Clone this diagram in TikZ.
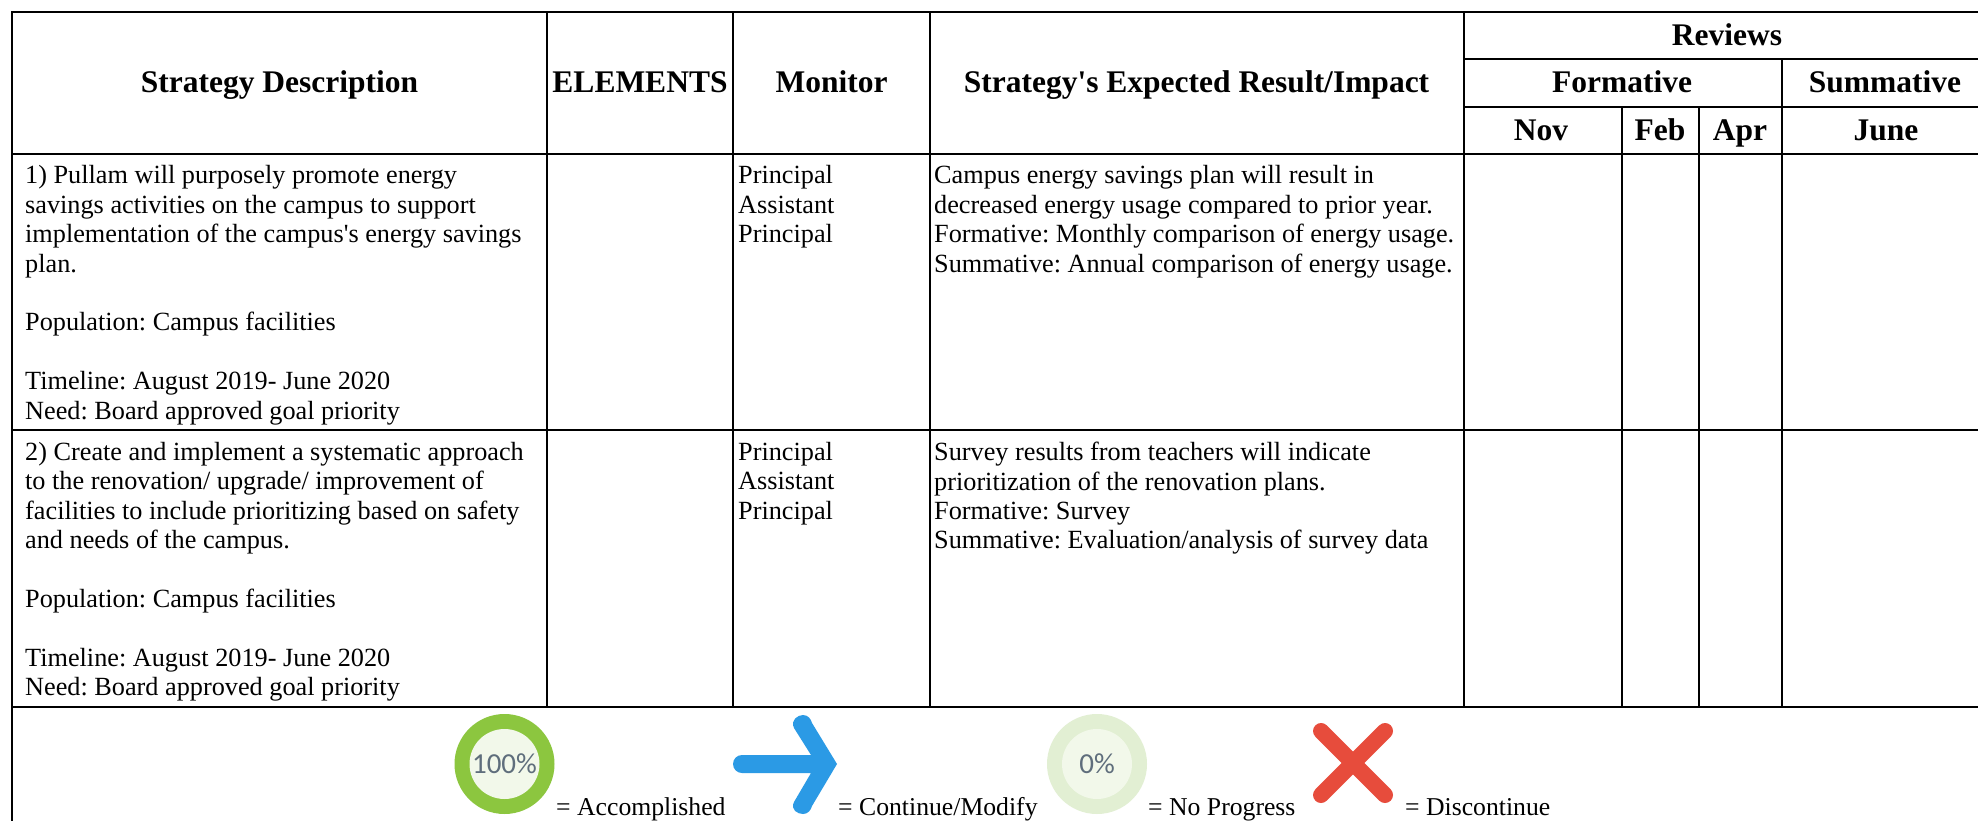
\documentclass[tikz,border=0pt]{standalone}
\usepackage{fontspec}
\setmainfont{Liberation Serif}
\newfontfamily\tnr{Liberation Serif}
\newfontfamily\pctfont{Carlito}
\definecolor{ringA}{HTML}{8CC63F}\definecolor{ringB}{HTML}{E2EFD3}\definecolor{core}{HTML}{F2F8EA}
\definecolor{arrowblue}{HTML}{2B9AE5}\definecolor{xred}{HTML}{E74C3C}\definecolor{pcttext}{HTML}{5F6E7C}
\tikzset{x=1pt,y=-1pt,
 rule/.style={line width=2pt,black},
 head/.style={inner sep=0pt,anchor=base,font=\tnr\fontsize{31.5}{31.5}\selectfont\bfseries},
 body/.style={inner sep=0pt,anchor=north west,align=left,font=\tnr\frenchspacing\fontsize{26.25}{29.4}\selectfont},
 legend/.style={inner sep=0pt,anchor=base west,font=\tnr\frenchspacing\fontsize{25.7}{29.4}\selectfont},
 pct/.style={inner sep=0pt,text=pcttext,font=\pctfont\fontsize{29}{29}\selectfont}}
\begin{document}
\begin{tikzpicture}
\useasboundingbox (0,0) rectangle (1978,821);
\fill[white] (0,0) rectangle (1978,821);
% grid
\draw[rule] (1978,12) -- (12,12) -- (12,821);
\draw[rule] (546.5,12) -- (546.5,707);
\draw[rule] (733,12) -- (733,707);
\draw[rule] (930,12) -- (930,707);
\draw[rule] (1463.5,12) -- (1463.5,707);
\draw[rule] (1622,107) -- (1622,707);
\draw[rule] (1698.5,107) -- (1698.5,707);
\draw[rule] (1782,59.5) -- (1782,707);
\draw[rule] (1463.5,59.5) -- (1978,59.5);
\draw[rule] (1463.5,107) -- (1978,107);
\draw[rule] (12,154) -- (1978,154);
\draw[rule] (12,430) -- (1978,430);
\draw[rule] (12,707) -- (1978,707);
% headers
\node[head] (h1) at (279.5,93) {Strategy Description};
\node[head] (h2) at (640,93) {ELEMENTS};
\node[head] (h3) at (831.5,93) {Monitor};
\node[head] (h4) at (1196.5,93) {Strategy's Expected Result/Impact};
\node[head] (h5) at (1727,46) {Reviews};
\node[head] (h6) at (1622,93) {Formative};
\node[head] (h7) at (1885,93) {Summative};
\node[head] (h8) at (1541,141) {Nov};
\node[head] (h9) at (1660,141) {Feb};
\node[head] (h10) at (1740,141) {Apr};
\node[head] (h11) at (1886,141) {June};
% row 1
\node[body] (a1) at (25,165.5) {1) Pullam will purposely promote energy\\savings activities on the campus to support\\implementation of the campus's energy savings\\plan.\\[29.4pt]Population: Campus facilities\\[29.4pt]Timeline: August 2019- June 2020\\Need: Board approved goal priority};
\node[body] (m1) at (738,165.5) {Principal\\Assistant\\Principal};
\node[body] (r1) at (934,165.5) {Campus energy savings plan will result in\\decreased energy usage compared to prior year.\\Formative: Monthly comparison of energy usage.\\Summative: Annual comparison of energy usage.};
% row 2
\node[body] (a2) at (25,442) {2) Create and implement a systematic approach\\to the renovation/ upgrade/ improvement of\\facilities to include prioritizing based on safety\\and needs of the campus.\\[29.4pt]Population: Campus facilities\\[29.4pt]Timeline: August 2019- June 2020\\Need: Board approved goal priority};
\node[body] (m2) at (738,442) {Principal\\Assistant\\Principal};
\node[body] (r2) at (934,442) {Survey results from teachers will indicate\\prioritization of the renovation plans.\\Formative: Survey\\Summative: Evaluation/analysis of survey data};
% legend icons
\fill[ringA] (504.5,764) circle (50);
\fill[core] (504.5,764) circle (35);
\node[pct] (p100) at (504.5,764) {100\%};
\fill[arrowblue] (742,755) -- (811,755) -- (794,728) .. controls (790,720) and (798,715) .. (803,715) .. controls (808,715) and (811,719) .. (812,723) -- (837,764) -- (812,806) .. controls (811,810) and (808,814) .. (803,814) .. controls (798,814) and (790,810) .. (794,802) -- (811,773) -- (742,773) .. controls (737,773) and (733,769) .. (733,764) .. controls (733,759) and (737,755) .. (742,755) -- cycle;
\fill[ringB] (1097,764) circle (50);
\fill[core] (1097,764) circle (35);
\node[pct] (p0) at (1097,764) {0\%};
\draw[xred,line width=16pt,line cap=round] (1321,731) -- (1385,795);
\draw[xred,line width=16pt,line cap=round] (1385,731) -- (1321,795);
\node[legend] (l1) at (556,815) {= Accomplished};
\node[legend] (l2) at (838,815) {= Continue/Modify};
\node[legend] (l3) at (1148,815) {= No Progress};
\node[legend] (l4) at (1405,815) {= Discontinue};
\end{tikzpicture}
\end{document}
